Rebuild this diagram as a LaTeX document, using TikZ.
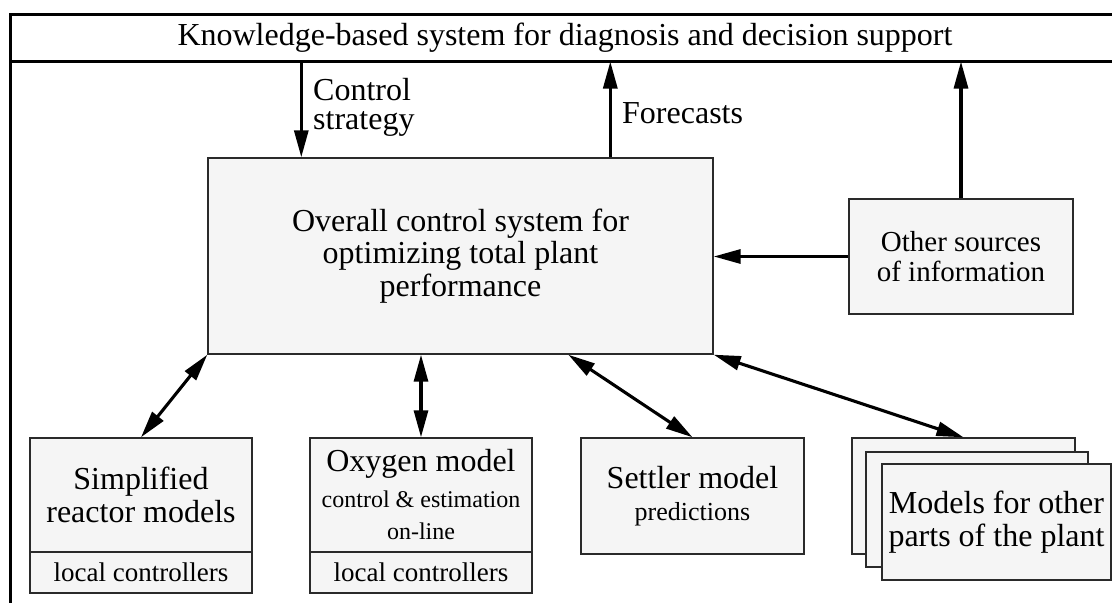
\documentclass[tikz,border=0pt]{standalone}
\usepackage{fontspec}
\setmainfont{Liberation Serif}
\usetikzlibrary{arrows.meta,calc}
\definecolor{boxfill}{HTML}{F5F5F5}
\definecolor{boxline}{HTML}{2A2A2A}

\newcommand{\subline}{\fontsize{24}{25}\selectfont}

\tikzset{
  big/.style={font=\fontsize{32}{32.5}\selectfont},
  small/.style={font=\fontsize{27}{30}\selectfont},
  box/.style={draw=boxline, line width=1.4pt, fill=boxfill, inner sep=0pt, align=center},
  frameline/.style={line width=3pt},
  >={Triangle[length=27pt,width=14pt]},
  flow/.style={line width=3.1pt, ->},
  both/.style={line width=3.1pt, <->},
  label/.style={big, inner sep=0pt, align=left},
}

\begin{document}
\begin{tikzpicture}[x=1pt, y=-1pt]
  \useasboundingbox (0,0) rectangle (1112,603);

  % outer frame with the knowledge-based system bar
  \draw[frameline] (1112,14) -- (10,14) -- (10,603);
  \draw[frameline] (10,61.5) -- (1112,61.5);
  \coordinate (bar) at (10,61.5);
  \node[big, inner sep=0pt, anchor=base] (kbs) at (565,45)
    {Knowledge-based system for diagnosis and decision support};

  % central control system
  \node[box, big, minimum width=505pt, minimum height=196pt] (main) at (460.5,256)
    {Overall control system for\\optimizing total plant\\performance};

  % other sources of information
  \node[box, font=\fontsize{29}{30}\selectfont, minimum width=224pt, minimum height=115pt]
    (oth) at (961,256.5) {Other sources\\of information};

  % simplified reactor models
  \node[box, big, minimum width=222pt, minimum height=114pt] (sim) at (141,495)
    {Simplified\\reactor models};
  \node[box, small, minimum width=222pt, minimum height=41pt] (simlc) at (141,572.5)
    {local controllers};

  % oxygen model
  \node[box, big, minimum width=222pt, minimum height=114pt] (ox) at (421,495)
    {Oxygen model\\[3pt]\subline control \& estimation\\\subline on-line};
  \node[box, small, minimum width=222pt, minimum height=41pt] (oxlc) at (421,572.5)
    {local controllers};

  % settler model
  \node[box, big, minimum width=223pt, minimum height=116pt] (set) at (692.5,496)
    {Settler model\\\fontsize{26}{30}\selectfont predictions};

  % stack of models for the other parts of the plant
  \node[box, minimum width=223pt, minimum height=116pt] (mback) at (963.5,496) {};
  \node[box, minimum width=222pt, minimum height=115pt] (mmid) at (977,509.5) {};
  \node[box, big, minimum width=229pt, minimum height=116pt] (mfront) at (996.5,522)
    {Models for other\\parts of the plant};

  % links to and from the knowledge-based system
  \coordinate (csx) at ($(main.north west)+(94,0)$);
  \coordinate (fcx) at ($(main.north west)+(403,0)$);
  \draw[flow] (csx |- bar) -- (csx);
  \draw[flow] (fcx) -- (fcx |- bar);
  \node[label, anchor=north west, font=\fontsize{32}{29}\selectfont] (lcs) at (313,78)
    {Control\\strategy};
  \node[label, anchor=base west] (lfc) at (622,123) {Forecasts};
  \draw[flow] (oth.north) -- (oth.north |- bar);
  \draw[flow] (oth.west) -- (oth.west -| main.east);

  % links between the control system and the models
  \draw[both] (main.south west) -- (sim.north);
  \draw[both] (ox.north |- main.south) -- (ox.north);
  \draw[both] ($(main.south west)+(361,0)$) -- (set.north);
  \draw[both] (main.south east) -- (mback.north);
\end{tikzpicture}
\end{document}
